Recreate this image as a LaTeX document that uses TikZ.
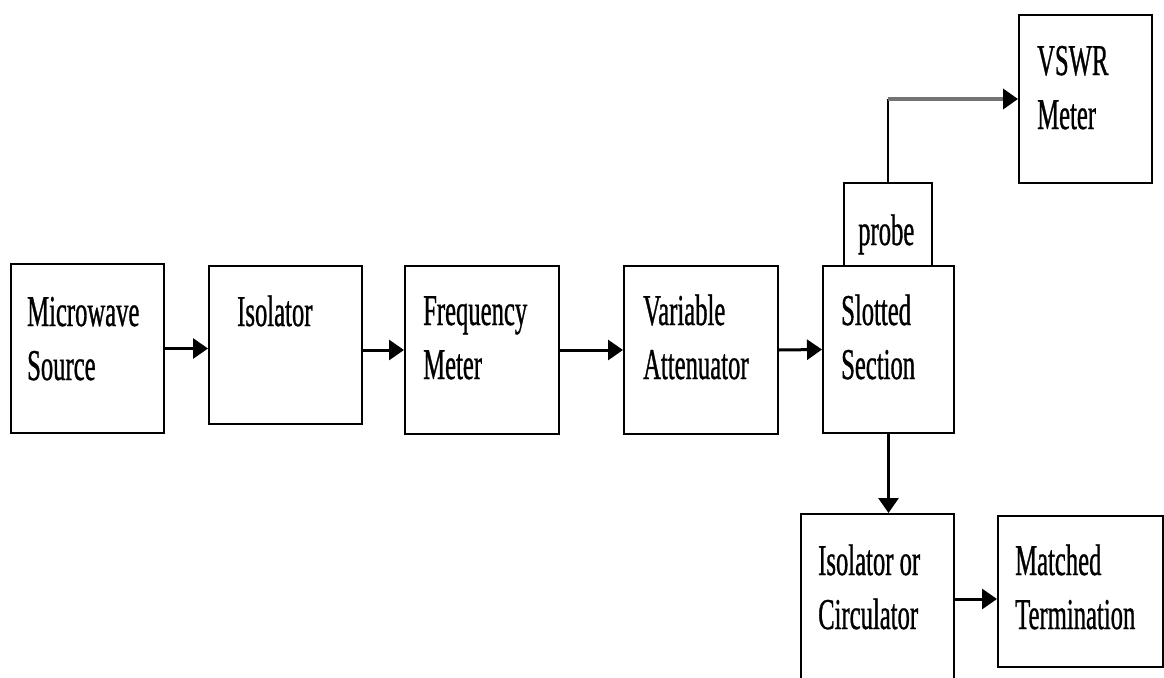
\documentclass[tikz,border=0pt]{standalone}
\usepackage{fontspec}
\setmainfont{Liberation Serif}[FakeStretch=0.56,FakeBold=0.7]
\usetikzlibrary{arrows.meta}
\begin{document}
\begin{tikzpicture}[x=1pt,y=-1pt,
  blk/.style={draw, line width=2pt, inner sep=0pt, anchor=north west},
  lbl/.style={anchor=base west, inner sep=0pt, font=\fontsize{44}{54}\selectfont},
  conn/.style={line width=3pt, -{Triangle[length=15pt,width=20pt]}},
  feed/.style={line width=1.6pt},
  meas/.style={line width=4.5pt, draw=black!55, -{Triangle[length=15pt,width=20pt,fill=black,color=black]}},
]
\useasboundingbox (0,0) rectangle (1164,677);
\clip (0,0) rectangle (1164,677);
% blocks
\node[blk, minimum width=153pt, minimum height=169pt] (ms) at (10,263) {};
\node[blk, minimum width=153pt, minimum height=158pt] (iso) at (208,265) {};
\node[blk, minimum width=154pt, minimum height=168pt] (fm) at (404,265) {};
\node[blk, minimum width=154pt, minimum height=168pt] (va) at (623,265) {};
\node[blk, minimum width=131pt, minimum height=167pt] (ss) at (822,265) {};
\node[blk, minimum width=88pt, minimum height=83pt] (pr) at (843,182) {};
\node[blk, minimum width=133pt, minimum height=168pt] (vs) at (1018,14) {};
\node[blk, minimum width=153pt, minimum height=170pt] (ic) at (800,513) {};
\node[blk, minimum width=165pt, minimum height=151pt] (mt) at (997,515) {};
% labels
\node[lbl] (msT) at (27,326) {\begin{tabular}[t]{@{}l@{}}Microwave\\Source\end{tabular}};
\node[lbl] (isoT) at (237,326) {Isolator};
\node[lbl] (fmT) at (423,325) {\begin{tabular}[t]{@{}l@{}}Frequency\\Meter\end{tabular}};
\node[lbl] (vaT) at (643,325) {\begin{tabular}[t]{@{}l@{}}Variable\\Attenuator\end{tabular}};
\node[lbl] (ssT) at (841,325) {\begin{tabular}[t]{@{}l@{}}Slotted\\Section\end{tabular}};
\node[lbl] (prT) at (858,245) {probe};
\node[lbl] (vsT) at (1037,75) {\begin{tabular}[t]{@{}l@{}}VSWR\\Meter\end{tabular}};
\node[lbl] (icT) at (818,575) {\begin{tabular}[t]{@{}l@{}}Isolator or\\Circulator\end{tabular}};
\node[lbl] (mtT) at (1015,575) {\begin{tabular}[t]{@{}l@{}}Matched\\Termination\end{tabular}};
% connectors
\draw[conn] (ms.east) -- (ms.east -| iso.west);
\draw[conn] (iso.east |- fm.west) -- (fm.west);
\draw[conn] (fm.east) -- (va.west);
\draw[conn] (va.east) -- (ss.west);
\draw[conn] (ss.south) -- (ss.south |- ic.north);
\draw[conn] (ic.east) -- (ic.east -| mt.west);
\coordinate (bend) at (pr.north |- vs.west);
\draw[feed] (pr.north) -- (bend);
\draw[meas] (bend) -- (vs.west);
\end{tikzpicture}
\end{document}
